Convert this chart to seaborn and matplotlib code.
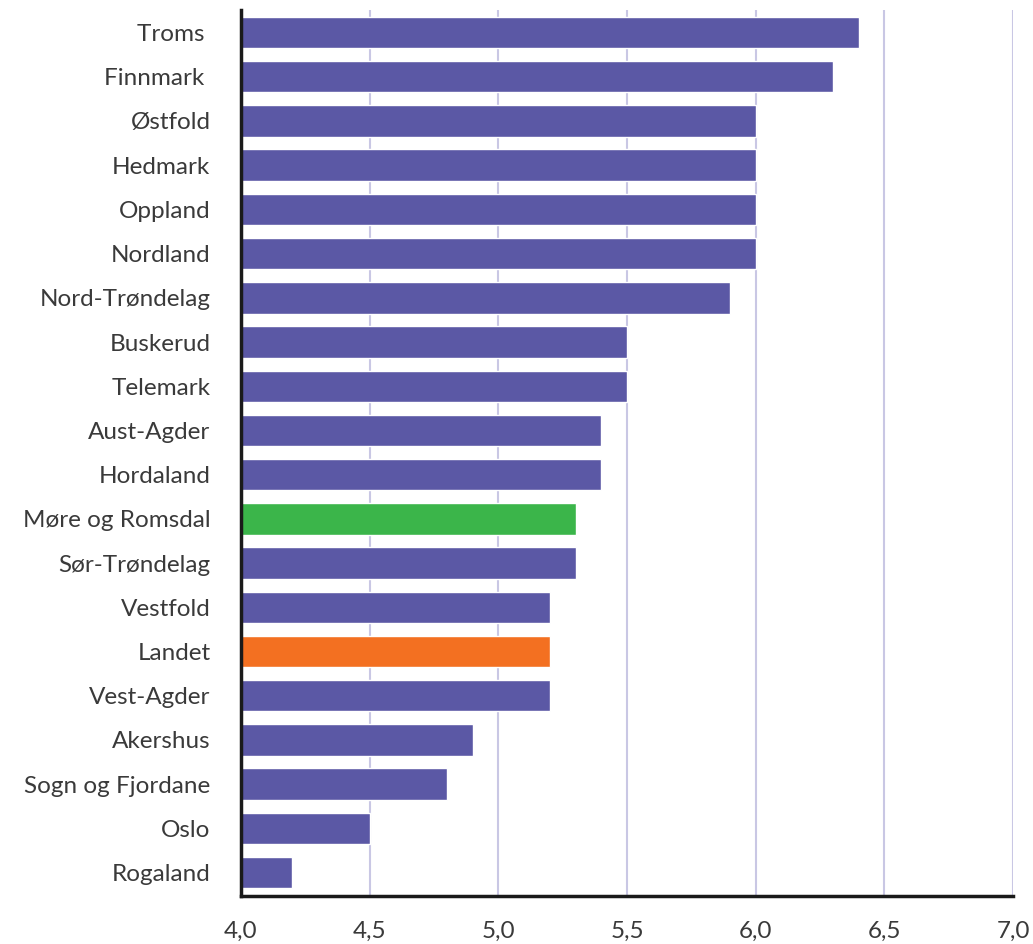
import matplotlib
matplotlib.use("Agg")
import matplotlib.pyplot as plt
import matplotlib.ticker as mticker
import seaborn as sns
import pandas as pd

categories = ["Troms ", "Finnmark ", "Østfold", "Hedmark", "Oppland", "Nordland",
              "Nord-Trøndelag", "Buskerud", "Telemark", "Aust-Agder", "Hordaland",
              "Møre og Romsdal", "Sør-Trøndelag", "Vestfold", "Landet", "Vest-Agder",
              "Akershus", "Sogn og Fjordane", "Oslo", "Rogaland"]
values = [6.4, 6.3, 6.0, 6.0, 6.0, 6.0, 5.9, 5.5, 5.5, 5.4, 5.4,
          5.3, 5.3, 5.2, 5.2, 5.2, 4.9, 4.8, 4.5, 4.2]
xticks = [4.0, 4.5, 5.0, 5.5, 6.0, 6.5, 7.0]

PURPLE = "#5B58A5"
GREEN = "#3BB54A"
ORANGE = "#F37021"
special = {"Møre og Romsdal": GREEN, "Landet": ORANGE}
palette = {c: special.get(c, PURPLE) for c in categories}

df = pd.DataFrame({"category": categories, "value": values})

sns.set_theme(style="white")
plt.rcParams["font.family"] = ["Lato", "DejaVu Sans"]

fig = plt.figure(figsize=(10.33, 9.44), dpi=100)
ax = fig.add_axes([241 / 1033, 1 - 896 / 944, (1013 - 241) / 1033, (896 - 10) / 944])

sns.barplot(data=df, y="category", x="value", hue="category", palette=palette,
            order=categories, hue_order=categories, width=0.71, legend=False,
            saturation=1, ax=ax, orient="h")

# bars start at the axis origin 4.0
for patch, v in zip(ax.patches, values):
    patch.set_x(4.0)
    patch.set_width(v - 4.0)

ax.set_xlim(4.0, 7.0)
ax.set_ylim(len(categories) - 0.47, -0.51)
ax.set_xticks(xticks)
ax.xaxis.set_major_formatter(mticker.FuncFormatter(lambda v, p: f"{v:.1f}".replace(".", ",")))
ax.grid(axis="x", color="#C9C7E4", linewidth=1.5)
ax.set_axisbelow(True)
ax.set_xlabel("")
ax.set_ylabel("")
for s in ["top", "right"]:
    ax.spines[s].set_visible(False)
for s in ["left", "bottom"]:
    ax.spines[s].set_color("#1a1a1a")
    ax.spines[s].set_linewidth(2.5)
ax.tick_params(axis="both", length=0, labelsize=17.5, labelcolor="#3a3a3a")
ax.tick_params(axis="y", pad=22)
ax.tick_params(axis="x", pad=18)

fig.savefig("out.png", dpi=100)
